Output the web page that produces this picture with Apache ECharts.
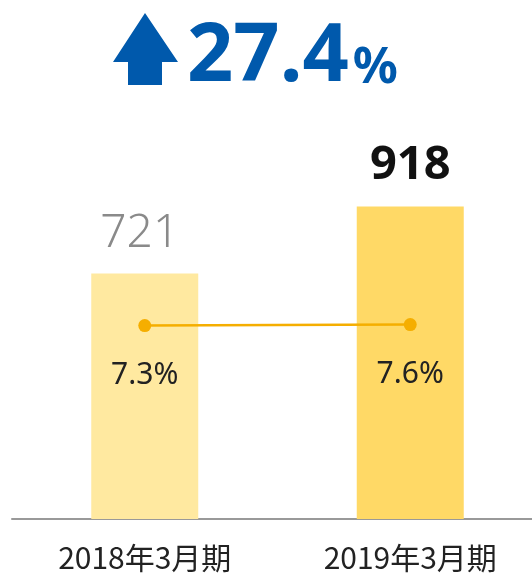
<!DOCTYPE html>
<html>
<head>
<meta charset="utf-8">
<script src="https://cdn.jsdelivr.net/npm/echarts@6/dist/echarts.min.js"></script>
<style>
  html, body { margin: 0; padding: 0; background: #fff; }
  #main { width: 532px; height: 573px; }
</style>
</head>
<body>
<div id="main"></div>
<script>
// 期ごとの値
var periods = ['2018年3月期', '2019年3月期'];
var amounts = [721, 918];
var ratios = [7.3, 7.6];
var growth = '27.4';

var barColors = ['#FFE9A0', '#FFD966'];
var lineColor = '#F5AE00';
var blue = '#0059AC';

var myChart = echarts.init(document.getElementById('main'));

var option = {
  backgroundColor: '#ffffff',
  animation: false,
  title: {
    text: '{a|' + growth + '}{b|%}',
    left: 182,
    top: 12,
    textStyle: {
      rich: {
        a: { fontFamily: 'Noto Sans', fontSize: 81, fontWeight: 'bold', color: blue, verticalAlign: 'bottom' },
        b: { fontFamily: 'Noto Sans', fontSize: 50, fontWeight: 'bold', color: blue, verticalAlign: 'bottom', padding: [0, 0, 4, 4] }
      }
    }
  },
  graphic: [{
    type: 'polygon',
    shape: {
      points: [[145, 13], [178, 62], [162, 62], [162, 85], [128, 85], [128, 62], [113, 62]]
    },
    style: { fill: blue }
  }],
  grid: { left: 12, right: -11, top: 178.5, bottom: 54, outerBoundsMode: 'none', containLabel: false },
  xAxis: {
    type: 'category',
    data: periods,
    axisTick: { show: false },
    axisLine: { lineStyle: { color: '#999', width: 2 } },
    axisLabel: {
      margin: 24,
      fontFamily: 'Noto Sans CJK JP',
      fontSize: 30,
      color: '#222'
    }
  },
  yAxis: [{
    type: 'value',
    min: 0,
    max: 1000,
    show: false,
    splitLine: { show: false }
  }, {
    type: 'value',
    min: -49.5,
    max: 50.5,
    show: false,
    splitLine: { show: false }
  }],
  series: [{
    type: 'bar',
    barWidth: 107,
    data: amounts.map(function (v, i) {
      return {
        value: v,
        itemStyle: { color: barColors[i] },
        label: i === 0
          ? { color: '#8a8a8a', fontWeight: 300, fontSize: 46, offset: [-5, 0] }
          : { color: '#111', fontWeight: 'bold', fontSize: 47 }
      };
    }),
    label: {
      show: true,
      position: 'top',
      distance: 17,
      fontFamily: 'Noto Sans'
    }
  }, {
    type: 'line',
    yAxisIndex: 1,
    data: ratios,
    symbol: 'circle',
    symbolSize: 13,
    lineStyle: { color: lineColor, width: 2.5 },
    itemStyle: { color: lineColor },
    label: {
      show: true,
      position: 'bottom',
      distance: 28,
      fontFamily: 'Noto Sans',
      fontSize: 30,
      color: '#222',
      formatter: function (p) { return p.value.toFixed(1) + '%'; }
    }
  }]
};

myChart.setOption(option);
</script>
</body>
</html>
